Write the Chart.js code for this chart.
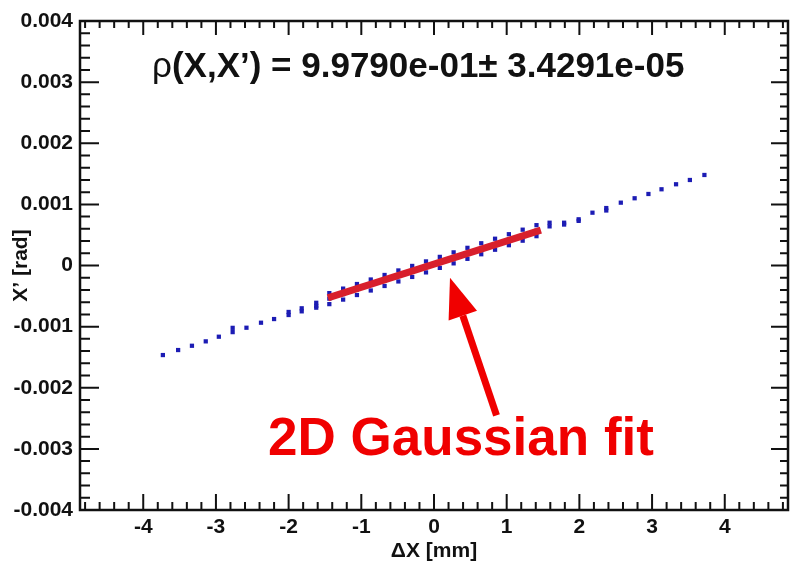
<!DOCTYPE html>
<html>
<head>
<meta charset="utf-8">
<script src="https://cdn.jsdelivr.net/npm/chart.js@4.4.1/dist/chart.umd.min.js"></script>
<style>
    body { margin: 0; background: #fff; }
</style>
</head>
<body>
<canvas id="corrChart" width="792" height="564"></canvas>
<script>
// binned (X, X') scatter: outer tails
const tailX = [-3.73, -3.52, -3.33, -3.14, -2.96, -2.77, -2.77, -2.58, -2.38, -2.20, -2.00, -2.00, -1.82, -1.82, -1.62, -1.62, -1.62,
               1.59, 1.59, 1.79, 1.79, 1.99, 1.99, 2.18, 2.37, 2.37, 2.57, 2.76, 2.95, 3.13, 3.33, 3.52, 3.72];
const tailY = [-0.001465, -0.001383, -0.001313, -0.001241, -0.001165, -0.001020, -0.001090, -0.001018, -0.000936, -0.000876, -0.000760, -0.000810, -0.000700, -0.000750, -0.000610, -0.000660, -0.000690,
               0.000700, 0.000640, 0.000700, 0.000670, 0.000756, 0.000730, 0.000864, 0.000940, 0.000900, 0.001028, 0.001100, 0.001170, 0.001247, 0.001329, 0.001399, 0.001481];

// core of the distribution, three X' bins per X bin
const coreX = [-1.44, -1.25, -1.06, -0.87, -0.68, -0.49, -0.30, -0.11, 0.08, 0.27, 0.46, 0.65, 0.84, 1.03, 1.22, 1.41];
const coreMid = [-0.000542, -0.000468, -0.000393, -0.000319, -0.000245, -0.000171, -0.000097, -0.000023, 0.000051, 0.000125, 0.000199, 0.000274, 0.000348, 0.000422, 0.000496, 0.000570];
const coreUp = [-0.000452, -0.000378, -0.000303, -0.000229, -0.000155, -0.000081, -0.000007, 0.000067, 0.000141, 0.000215, 0.000289, 0.000364, 0.000438, 0.000512, 0.000586, 0.000660];
const coreLow = [-0.000632, -0.000558, -0.000483, -0.000409, -0.000335, -0.000261, -0.000187, -0.000113, -0.000039, 0.000035, 0.000109, 0.000184, 0.000258, 0.000332, 0.000406, 0.000480];

// 2D Gaussian fit axis
const fitX = [-1.46, 1.47];
const fitY = [-0.00053, 0.00058];

const xTicks = [-4, -3, -2, -1, 0, 1, 2, 3, 4];
const yTicks = [-0.004, -0.003, -0.002, -0.001, 0, 0.001, 0.002, 0.003, 0.004];

const titleText = "(X,X\u2019) = 9.9790e-01\u00b1 3.4291e-05";
const noteText = "2D Gaussian fit";
const arrowTip = { x: 0.22, y: -0.0002 };
const arrowTail = { x: 0.86, y: -0.00245 };

const FONT = "'Liberation Sans', Arial, sans-serif";

const scatterPts = [];
tailX.forEach((x, i) => scatterPts.push({ x: x, y: tailY[i] }));
coreX.forEach((x, i) => {
    scatterPts.push({ x: x, y: coreMid[i] });
    scatterPts.push({ x: x, y: coreUp[i] });
    scatterPts.push({ x: x, y: coreLow[i] });
});
const fitPts = fitX.map((x, i) => ({ x: x, y: fitY[i] }));

// ROOT style frame with inward ticks, plus the text and arrow
const rootFrame = {
    id: "rootFrame",
    afterDatasetsDraw(chart) {
        const { ctx, chartArea: a, scales: { x, y } } = chart;
        ctx.save();
        ctx.strokeStyle = "#111";
        ctx.lineWidth = 2;
        ctx.beginPath();
        for (let k = -24; k <= 24; k++) {
            const px = x.getPixelForValue(k * 0.2);
            if (px < a.left + 1 || px > a.right - 1) continue;
            const major = k % 5 === 0;
            ctx.moveTo(px, a.bottom);
            ctx.lineTo(px, a.bottom - (major ? 16 : 8));
            ctx.moveTo(px, a.top);
            ctx.lineTo(px, a.top + (major ? 14 : 7));
        }
        for (let k = -20; k <= 20; k++) {
            const py = y.getPixelForValue(k * 0.0002);
            const major = k % 5 === 0;
            ctx.moveTo(a.left, py);
            ctx.lineTo(a.left + (major ? 19 : 10), py);
            ctx.moveTo(a.right, py);
            ctx.lineTo(a.right - (major ? 17 : 8), py);
        }
        ctx.stroke();
        ctx.lineWidth = 2.5;
        ctx.strokeRect(a.left, a.top, a.right - a.left, a.bottom - a.top);

        // correlation title
        ctx.fillStyle = "#111";
        ctx.textBaseline = "alphabetic";
        ctx.textAlign = "left";
        ctx.font = "35px " + FONT;
        ctx.fillText("\u03c1", 152, 77);
        const rw = ctx.measureText("\u03c1").width;
        ctx.font = "bold 35px " + FONT;
        ctx.fillText(titleText, 152 + rw, 77);

        // arrow
        const tx = x.getPixelForValue(arrowTip.x), ty = y.getPixelForValue(arrowTip.y);
        const sx = x.getPixelForValue(arrowTail.x), sy = y.getPixelForValue(arrowTail.y);
        const ang = Math.atan2(ty - sy, tx - sx);
        const headLen = 40, headW = 15;
        const bx = tx - headLen * Math.cos(ang), by = ty - headLen * Math.sin(ang);
        ctx.strokeStyle = "#f00000";
        ctx.fillStyle = "#f00000";
        ctx.lineWidth = 7;
        ctx.beginPath();
        ctx.moveTo(sx, sy);
        ctx.lineTo(bx, by);
        ctx.stroke();
        ctx.beginPath();
        ctx.moveTo(tx, ty);
        ctx.lineTo(bx + headW * Math.sin(ang), by - headW * Math.cos(ang));
        ctx.lineTo(bx - headW * Math.sin(ang), by + headW * Math.cos(ang));
        ctx.closePath();
        ctx.fill();

        // note text
        ctx.font = "bold 53px " + FONT;
        ctx.textAlign = "center";
        ctx.fillText(noteText, 461, 455);
        ctx.restore();
    }
};

const ctx = document.getElementById("corrChart").getContext("2d");

new Chart(ctx, {
    type: "scatter",
    data: {
        datasets: [{
            type: "line",
            label: "fit",
            data: fitPts,
            borderColor: "#d81f2c",
            borderWidth: 7,
            pointRadius: 0,
            fill: false,
            order: 0
        }, {
            label: "data",
            data: scatterPts,
            backgroundColor: "#1c1cb4",
            borderWidth: 0,
            pointStyle: "rect",
            pointRadius: 3,
            order: 1
        }]
    },
    options: {
        responsive: false,
        animation: false,
        layout: { padding: { top: 21, right: 1, left: 0, bottom: 0 } },
        plugins: {
            legend: { display: false },
            tooltip: { enabled: false }
        },
        scales: {
            x: {
                type: "linear",
                min: -4.87,
                max: 4.87,
                afterBuildTicks: s => { s.ticks = xTicks.map(v => ({ value: v })); },
                afterFit: s => { s.height = 54; },
                grid: { display: false, drawTicks: false },
                border: { display: false },
                ticks: {
                    color: "#111",
                    padding: 5,
                    maxRotation: 0,
                    font: { family: FONT, size: 21, weight: "bold" },
                    callback: v => String(Math.round(v))
                },
                title: {
                    display: true,
                    text: "\u0394X [mm]",
                    color: "#111",
                    padding: 0,
                    font: { family: FONT, size: 21, weight: "bold" }
                }
            },
            y: {
                type: "linear",
                min: -0.004,
                max: 0.004,
                afterBuildTicks: s => { s.ticks = yTicks.map(v => ({ value: v })); },
                afterFit: s => { s.width = 80; },
                grid: { display: false, drawTicks: false },
                border: { display: false },
                ticks: {
                    color: "#111",
                    padding: 7,
                    font: { family: FONT, size: 21, weight: "bold" },
                    callback: v => (Math.abs(v) < 1e-9 ? "0" : v.toFixed(3))
                },
                title: {
                    display: true,
                    text: "X\u2019 [rad]",
                    color: "#111",
                    padding: { top: 9, bottom: 9 },
                    font: { family: FONT, size: 21, weight: "bold" }
                }
            }
        }
    },
    plugins: [rootFrame]
});
</script>
</body>
</html>
